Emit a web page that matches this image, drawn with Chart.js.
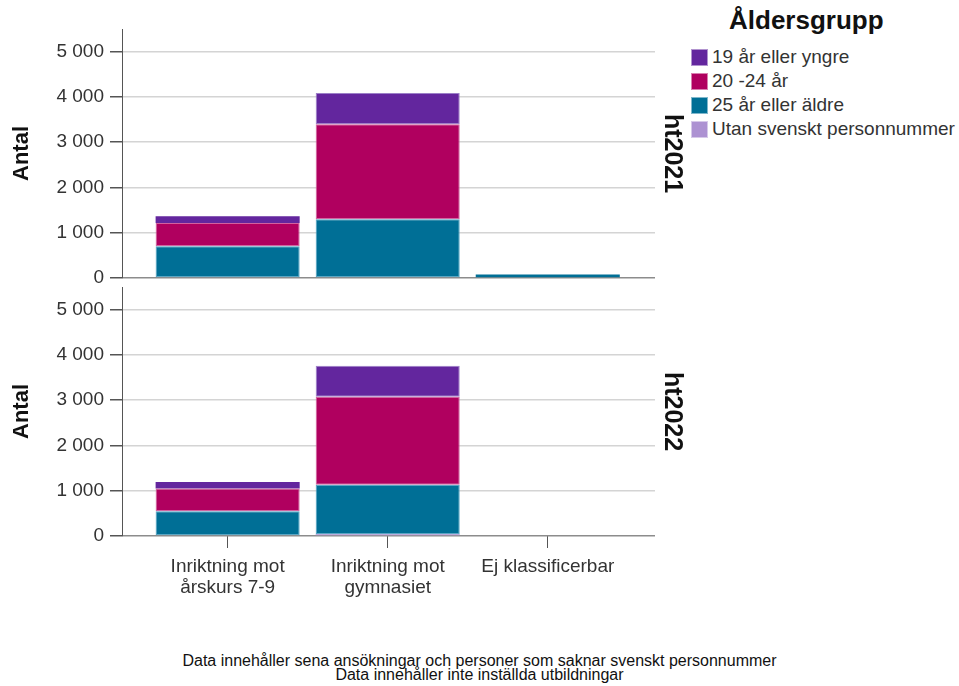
<!DOCTYPE html>
<html>
<head>
<meta charset="utf-8">
<script src="https://cdn.jsdelivr.net/npm/chart.js@4.4.1/dist/chart.umd.min.js"></script>
<style>
  body { margin: 0; background: #fff; width: 959px; height: 686px; position: relative; overflow: hidden;
         font-family: 'Liberation Sans', Arial, sans-serif; color: #222; }
  canvas { position: absolute; left: 0; }
  #top { top: 0; }
  #bottom { top: 250px; }
  #legendTitle { position: absolute; left: 729px; top: 5px; font-weight: bold; font-size: 26px; color: #111; }
  #legend { position: absolute; left: 691px; top: 45px; }
  .row { height: 24px; display: flex; align-items: center; font-size: 19px; color: #333; white-space: nowrap; }
  .sw { width: 15px; height: 15px; margin-right: 4px; border: 1px solid rgba(255,255,255,0.5); }
  #note { position: absolute; left: 0; top: 654px; width: 959px; text-align: center;
          font-family: 'Liberation Sans Narrow', 'Liberation Sans', Arial, sans-serif; font-size: 16px; line-height: 14px; color: #111; }
</style>
</head>
<body>
<canvas id="top" width="691" height="298"></canvas>
<canvas id="bottom" width="691" height="360"></canvas>
<div id="legendTitle">Åldersgrupp</div>
<div id="legend"></div>
<div id="note">Data innehåller sena ansökningar och personer som saknar svenskt personnummer<br>Data innehåller inte inställda utbildningar</div>
<script>
// categories (x) and facet rows
const CATEGORIES = [['Inriktning mot', 'årskurs 7-9'], ['Inriktning mot', 'gymnasiet'], ['Ej klassificerbar']];
const PANELS = ['ht2021', 'ht2022'];
const Y_TICKS = [0, 1000, 2000, 3000, 4000, 5000];

// legend order (top of stack first)
const SERIES_LABELS = ['19 år eller yngre', '20 -24 år', '25 år eller äldre', 'Utan svenskt personnummer'];
const SERIES_COLORS = ['#63269e', '#b0005f', '#006f96', '#ad92d2'];
const SERIES_EDGES  = ['#9c7fc8', '#d2609e', '#4fa3c4', '#cbb8e4'];

// ht2021
const HT2021_U19  = [148, 690, 0];
const HT2021_2024 = [516, 2094, 0];
const HT2021_25   = [701, 1285, 75];
const HT2021_UTAN = [0, 15, 0];

// ht2022
const HT2022_U19  = [145, 686, 0];
const HT2022_2024 = [505, 1942, 0];
const HT2022_25   = [545, 1093, 0];
const HT2022_UTAN = [0, 40, 0];

const fmt = v => String(v).replace(/\B(?=(\d{3})+(?!\d))/g, ' ');

Chart.defaults.font.family = "'Liberation Sans', Arial, sans-serif";
Chart.defaults.color = '#333';

function buildDatasets(series) {
  // stacking follows dataset order, so the bottom segment goes first
  return series.map((vals, i) => ({
    label: SERIES_LABELS[i],
    stack: 'all',
    data: vals.map((v, k) => ({ x: k + 1, y: v })),
    backgroundColor: SERIES_COLORS[i],
    borderColor: SERIES_EDGES[i],
    // thin segments stay solid, bigger ones get the light SPSS edge
    borderWidth: ctx => (ctx.raw && ctx.raw.y >= 200 ? 1 : 0),
    borderSkipped: false,
    categoryPercentage: 1,
    barPercentage: 0.9,
  })).reverse();
}

function makeChart(id, series, panel, isBottom) {
  const ctx = document.getElementById(id).getContext('2d');
  return new Chart(ctx, {
    type: 'bar',
    data: { datasets: buildDatasets(series) },
    options: {
      responsive: false,
      animation: false,
      layout: { padding: isBottom ? { top: 37, bottom: 0, left: 0, right: 0 } : { top: 29, bottom: 20, left: 0, right: 0 } },
      plugins: { legend: { display: false }, tooltip: { enabled: false } },
      scales: {
        x: {
          type: 'linear',
          offset: false,
          bounds: 'data',
          min: 0.34, max: 3.67,
          display: isBottom,
          afterFit: s => { s.height = isBottom ? 74 : 0; },
          afterBuildTicks: s => { s.ticks = CATEGORIES.map((c, i) => ({ value: i + 1 })); },
          grid: { offset: false, drawOnChartArea: false, drawTicks: true, tickLength: 12, tickColor: '#555' },
          border: { display: false },
          ticks: {
            autoSkip: false, maxRotation: 0, padding: 8,
            font: { size: 19, lineHeight: 1.1 }, color: '#333',
            callback: v => CATEGORIES[v - 1]
          }
        },
        y: {
          stacked: true,
          min: 0, max: 5500,
          afterFit: s => { s.width = 122; },
          afterBuildTicks: s => { s.ticks = Y_TICKS.map(v => ({ value: v })); },
          border: { display: true, color: '#555', width: 1 },
          grid: {
            color: c => (c.tick && c.tick.value === 0 ? '#8c8c8c' : '#d4d4d4'),
            lineWidth: 1.5,
            tickColor: '#555',
            tickLength: 12
          },
          ticks: { padding: 6, font: { size: 19 }, color: '#333', callback: v => fmt(v) },
          title: { display: true, text: 'Antal', font: { size: 22, weight: 'bold' }, color: '#111', padding: { top: 9, bottom: 0 } }
        },
        strip: {
          type: 'linear',
          position: 'right',
          display: true,
          afterFit: s => { s.width = 36; },
          grid: { display: false },
          border: { display: false },
          ticks: { display: false },
          title: { display: true, text: panel, font: { size: 25, weight: 'bold' }, color: '#111', padding: { top: 4, bottom: 0 } }
        }
      }
    }
  });
}

makeChart('top', [HT2021_U19, HT2021_2024, HT2021_25, HT2021_UTAN], PANELS[0], false);
makeChart('bottom', [HT2022_U19, HT2022_2024, HT2022_25, HT2022_UTAN], PANELS[1], true);

// shared legend
const legend = document.getElementById('legend');
SERIES_LABELS.forEach((lab, i) => {
  const row = document.createElement('div');
  row.className = 'row';
  row.innerHTML = '<div class="sw" style="background:' + SERIES_COLORS[i] + '"></div>' + lab;
  legend.appendChild(row);
});
</script>
</body>
</html>
